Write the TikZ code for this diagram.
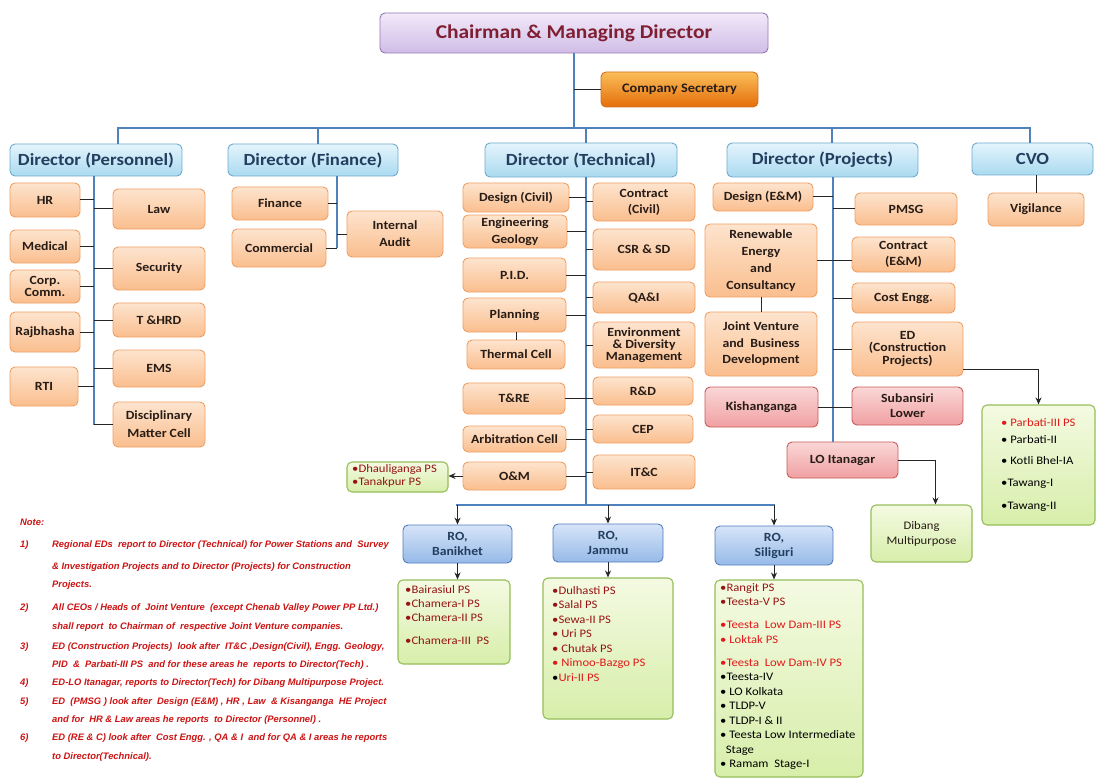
\documentclass[tikz,border=0pt]{standalone}
\usepackage{fontspec}
\setmainfont{Carlito}[FakeStretch=1.1]
\newfontfamily\notefont{Liberation Sans}
\usetikzlibrary{arrows.meta}
\definecolor{orTop}{RGB}{253,228,206}
\definecolor{orBot}{RGB}{250,190,142}
\definecolor{orBorder}{RGB}{240,160,100}
\definecolor{csTop}{RGB}{250,190,90}
\definecolor{csBot}{RGB}{228,110,10}
\definecolor{csBorder}{RGB}{210,110,30}
\definecolor{blTop}{RGB}{228,244,252}
\definecolor{blBot}{RGB}{170,218,240}
\definecolor{blBorder}{RGB}{110,170,205}
\definecolor{tiTop}{RGB}{242,234,250}
\definecolor{tiBot}{RGB}{208,188,230}
\definecolor{tiBorder}{RGB}{150,120,180}
\definecolor{pkTop}{RGB}{250,215,215}
\definecolor{pkBot}{RGB}{240,160,162}
\definecolor{pkBorder}{RGB}{200,90,90}
\definecolor{gnTop}{RGB}{244,250,226}
\definecolor{gnBot}{RGB}{215,238,170}
\definecolor{gnBorder}{RGB}{150,190,90}
\definecolor{roTop}{RGB}{214,228,248}
\definecolor{roBot}{RGB}{150,186,232}
\definecolor{roBorder}{RGB}{85,125,190}
\definecolor{trunkblue}{RGB}{79,129,189}
\definecolor{titletext}{RGB}{128,30,50}
\definecolor{dirtext}{RGB}{35,62,95}
\definecolor{boxtext}{RGB}{40,28,22}
\definecolor{dred}{RGB}{150,20,20}
\definecolor{bred}{RGB}{225,25,25}
\definecolor{notered}{RGB}{205,20,20}
\newcommand{\mkbox}[7]{\node[#1, minimum width={(#5-#3)*1pt}, minimum height={(#6-#4)*1pt}] (#2) at ({(#3+#5)/2},{(#4+#6)/2}) {#7};}
\begin{document}
\begin{tikzpicture}[x=1pt,y=-1pt,
  base/.style={rounded corners=5pt, draw, line width=0.9pt, align=center, inner sep=1pt,
    font=\fontsize{12.5}{15}\selectfont\bfseries, text=boxtext},
  ls/.style={font=\fontsize{12.5}{#1}\selectfont\bfseries},
  obox/.style={base, draw=orBorder, top color=orTop, bottom color=orBot},
  cbox/.style={base, draw=csBorder, top color=csTop, bottom color=csBot,
    font=\fontsize{13}{15}\selectfont\bfseries},
  dbox/.style={base, draw=blBorder, top color=blTop, bottom color=blBot,
    font=\fontsize{17}{18}\selectfont\bfseries, text=dirtext},
  tbox/.style={base, draw=tiBorder, top color=tiTop, bottom color=tiBot,
    font=\fontsize{19.5}{20}\selectfont\bfseries, text=titletext},
  pbox/.style={base, draw=pkBorder, top color=pkTop, bottom color=pkBot},
  gbox/.style={base, draw=gnBorder, top color=gnTop, bottom color=gnBot, line width=1.1pt},
  rbox/.style={base, draw=roBorder, top color=roTop, bottom color=roBot, text=dirtext},
  list/.style={anchor=north west, inner sep=0pt, align=left, font=\fontsize{11.5}{#1}\selectfont},
  trunk/.style={draw=trunkblue, line width=2.6pt},
  conn/.style={draw=black!85, line width=1pt},
  arr/.style={conn, -{Stealth[length=7pt,width=6pt]}},
  note/.style={anchor=west, inner sep=0pt, text=notered,
    font=\notefont\fontsize{9.4}{10}\selectfont\bfseries\itshape}
]
\useasboundingbox (0,0) rectangle (1097,778);
\fill[white] (0,0) rectangle (1097,778);

% ---- top
\mkbox{tbox}{cmd}{380}{13}{768}{53}{Chairman \& Managing Director}
\mkbox{cbox}{cs}{601}{72}{758}{107}{Company Secretary}
\coordinate (bar) at (574,128);
\coordinate (d1) at (118,128);
\coordinate (d2) at (318,128);
\coordinate (d3) at (586,128);
\coordinate (d4) at (832,128);
\coordinate (d5) at (1030,128);

\mkbox{dbox}{dpers}{10}{144}{182}{176}{Director (Personnel)}
\mkbox{dbox}{dfin}{228}{144}{398}{176}{Director (Finance)}
\mkbox{dbox}{dtech}{485}{143}{677}{177}{Director (Technical)}
\mkbox{dbox}{dproj}{727}{143}{918}{177}{Director (Projects)}
\mkbox{dbox}{cvo}{972}{143}{1093}{175}{CVO}

\draw[trunk] (cmd.south) -- (bar);
\draw[trunk] ([xshift=-1.3pt]d1) -- ([xshift=1.3pt]d5);
\draw[trunk] (d1) -- (d1 |- dpers.north);
\draw[trunk] (d2) -- (d2 |- dfin.north);
\draw[trunk] (d3) -- (d3 |- dtech.north);
\draw[trunk] (d4) -- (d4 |- dproj.north);
\draw[trunk] (d5) -- (d5 |- cvo.north);
\draw[conn] (cs.west -| cmd.south) -- (cs.west);

% ---- Personnel
\mkbox{obox}{hr}{10}{183}{80}{217}{HR}
\mkbox{obox}{med}{10}{230}{80}{263}{Medical}
\mkbox{obox,ls=10}{corp}{10}{270}{80}{303}{Corp.\\Comm.}
\mkbox{obox}{raj}{10}{312}{80}{352}{Rajbhasha}
\mkbox{obox}{rti}{10}{367}{78}{406}{RTI}
\mkbox{obox}{law}{113}{189}{205}{229}{Law}
\mkbox{obox}{secu}{113}{247}{205}{290}{Security}
\mkbox{obox}{thrd}{113}{303}{205}{337}{T \&HRD}
\mkbox{obox}{ems}{113}{350}{205}{387}{EMS}
\mkbox{obox,ls=18}{dmc}{113}{402}{205}{447}{Disciplinary\\Matter Cell}
\coordinate (pv1) at (94,176);
\coordinate (pv2) at (94,425);
\draw[trunk] (pv1) -- (pv2);
\foreach \n in {hr,med,corp,raj,rti} \draw[conn] (\n.east) -- (\n.east -| pv1);
\foreach \n in {law,secu,thrd,ems,dmc} \draw[conn] (\n.west) -- (\n.west -| pv1);

% ---- Finance
\mkbox{obox}{fin}{232}{187}{328}{220}{Finance}
\mkbox{obox}{com}{232}{229}{326}{267}{Commercial}
\mkbox{obox,ls=17}{ia}{347}{211}{443}{257}{Internal\\Audit}
\coordinate (fv1) at (337,176);
\coordinate (fv2) at (337,248);
\draw[trunk] (fv1) -- (fv2);
\draw[conn] (fin.east) -- (fin.east -| fv1);
\draw[conn] (com.east) -- (com.east -| fv1);
\draw[conn] (ia.west) -- (ia.west -| fv1);

% ---- Technical
\mkbox{obox}{dciv}{463}{183}{569}{212}{Design (Civil)}
\mkbox{obox,ls=17}{eg}{463}{215}{567}{248}{Engineering\\Geology}
\mkbox{obox}{pid}{463}{258}{566}{292}{P.I.D.}
\mkbox{obox}{plan}{463}{298}{566}{332}{Planning}
\mkbox{obox}{tcell}{467}{340}{565}{369}{Thermal Cell}
\mkbox{obox}{tre}{463}{383}{565}{414}{T\&RE}
\mkbox{obox}{arb}{463}{426}{566}{452}{Arbitration Cell}
\mkbox{obox}{om}{463}{462}{566}{490}{O\&M}
\mkbox{obox,ls=16}{cciv}{593}{183}{695}{221}{Contract\\(Civil)}
\mkbox{obox}{csr}{593}{229}{695}{270}{CSR \& SD}
\mkbox{obox}{qa}{593}{282}{695}{313}{QA\&I}
\mkbox{obox,ls=12}{env}{593}{322}{695}{368}{Environment\\\& Diversity\\Management}
\mkbox{obox}{rd}{593}{377}{693}{405}{R\&D}
\mkbox{obox}{cep}{593}{415}{693}{443}{CEP}
\mkbox{obox}{itc}{593}{455}{695}{489}{IT\&C}
\coordinate (tv1) at (586,177);
\coordinate (tv2) at (586,505);
\draw[trunk] (tv1) -- (tv2);
\foreach \n in {dciv,eg,pid,plan,arb,om} \draw[conn] (\n.east) -- (\n.east -| tv1);
\foreach \n in {cciv,csr,qa,env,cep,itc} \draw[conn] (\n.west) -- (\n.west -| tv1);
\draw[conn] (tre.east) -- (tre.east -| rd.west);
\draw[conn] (tcell.north) -- (tcell.north |- plan.south);

\mkbox{gbox}{dh}{347}{462}{448}{492}{}
\node[list=13] (dht) at (352,464) {\textcolor{dred}{•Dhauliganga PS}\\\textcolor{dred}{•Tanakpur PS}};
\draw[arr] (om.west) -- (om.west -| dh.east);

% ---- Projects
\mkbox{obox}{dem}{713}{183}{813}{211}{Design (E\&M)}
\mkbox{obox}{pmsg}{855}{193}{957}{225}{PMSG}
\mkbox{obox,ls=17}{re}{705}{224}{817}{297}{Renewable\\Energy\\and\\Consultancy}
\mkbox{obox,ls=16}{cem}{852}{237}{955}{272}{Contract\\(E\&M)}
\mkbox{obox}{ce}{852}{283}{955}{313}{Cost Engg.}
\mkbox{obox,ls=16.5}{jv}{705}{312}{817}{376}{Joint Venture\\and\ \ Business\\Development}
\mkbox{obox,ls=12.5}{edc}{852}{322}{963}{376}{ED\\(Construction\\Projects)}
\mkbox{pbox}{kis}{705}{387}{818}{427}{Kishanganga}
\mkbox{pbox,ls=15}{sub}{852}{387}{963}{425}{Subansiri\\Lower}
\mkbox{pbox}{lo}{787}{442}{898}{478}{LO Itanagar}
\coordinate (jv1) at (833,177);
\draw[trunk] (jv1) -- (jv1 |- lo.north);
\draw[conn] (dem.east) -- (dem.east -| jv1);
\draw[conn] (pmsg.west) -- (pmsg.west -| jv1);
\draw[conn] (re.east) -- (re.east -| cem.west);
\draw[conn] (ce.west) -- (ce.west -| jv1);
\draw[conn] (edc.west) -- (edc.west -| jv1);
\draw[conn] (jv.north) -- (jv.north |- re.south);
\draw[conn] (kis.east) -- (kis.east -| sub.west);

\mkbox{gbox}{parb}{982}{405}{1095}{525}{}
\node[list=17] (parbt) at (1001,418) {\textcolor{bred}{• Parbati-III PS}\\
  • Parbati-II\\[4pt] • Kotli Bhel-IA\\[5pt] •Tawang-I\\[6pt] •Tawang-II};
\draw[arr] ([yshift=7pt]edc.south east) -| (parb.north);

\mkbox{gbox,font=\fontsize{11.5}{15}\selectfont}{dib}{871}{505}{972}{562}{Dibang\\Multipurpose}
\draw[arr] (lo.east) -| ([xshift=14pt]dib.north);

% ---- CVO
\mkbox{obox}{vig}{988}{193}{1084}{226}{Vigilance}
\draw[conn] (vig.north) -- (vig.north |- cvo.south);

% ---- Regional offices
\mkbox{rbox}{ro1}{403}{525}{512}{563}{RO,\\Banikhet}
\mkbox{rbox}{ro2}{553}{524}{663}{562}{RO,\\Jammu}
\mkbox{rbox}{ro3}{715}{526}{833}{565}{RO,\\Siliguri}
\draw[trunk] ([xshift=-1.3pt]tv2 -| ro1.north) -- ([xshift=1.3pt]tv2 -| ro3.north);
\foreach \n in {ro1,ro2,ro3} \draw[arr] (tv2 -| \n.north) -- (\n.north);

\mkbox{gbox}{g1}{398}{580}{510}{664}{}
\mkbox{gbox}{g2}{543}{578}{673}{719}{}
\mkbox{gbox}{g3}{715}{580}{863}{777}{}
\foreach \n in {1,2,3} \draw[arr] (ro\n.south) -- (ro\n.south |- g\n.north);

\node[list=14] (g1t) at (405,585) {\textcolor{dred}{•Bairasiul PS}\\\textcolor{dred}{•Chamera-I PS}\\
  \textcolor{dred}{•Chamera-II PS}\\[9pt]\textcolor{dred}{•Chamera-III\ \ PS}};
\node[list=14.5] (g2t) at (552,586) {\textcolor{dred}{•Dulhasti PS}\\\textcolor{dred}{•Salal PS}\\
  \textcolor{dred}{•Sewa-II PS}\\\textcolor{dred}{• Uri PS}\\\textcolor{dred}{• Chutak PS}\\
  \textcolor{bred}{• Nimoo-Bazgo PS}\\•\textcolor{bred}{ Uri-II PS}};
\node[list=14.5] (g3t) at (720,583) {\textcolor{dred}{•Rangit PS}\\\textcolor{dred}{•Teesta-V PS}\\[8.5pt]
  \textcolor{bred}{•Teesta\ \ Low Dam-III PS}\\\textcolor{bred}{• Loktak PS}\\[8.5pt]
  \textcolor{bred}{•Teesta\ \ Low Dam-IV PS}\\•Teesta-IV\\• LO Kolkata\\• TLDP-V\\• TLDP-I \& II\\
  • Teesta Low Intermediate\\\ \ Stage\\• Ramam\ \ Stage-I};

% ---- Notes
\node[note] (n0) at (20,522) {Note:};
\node[note] (k1) at (20,545) {1)};
\node[note] (t1a) at (52,545) {Regional EDs\ \ report to Director (Technical) for Power Stations and\ \ Survey};
\node[note] (t1b) at (52,567) {\& Investigation Projects and to Director (Projects) for Construction};
\node[note] (t1c) at (52,585) {Projects.};
\node[note] (k2) at (20,608) {2)};
\node[note] (t2a) at (52,608) {All CEOs / Heads of\ \ Joint Venture\ \ (except Chenab Valley Power PP Ltd.)};
\node[note] (t2b) at (52,627) {shall report\ \ to Chairman of\ \ respective Joint Venture companies.};
\node[note] (k3) at (20,647) {3)};
\node[note] (t3a) at (52,647) {ED (Construction Projects)\ \ look after\ \ IT\&C ,Design(Civil), Engg. Geology,};
\node[note] (t3b) at (52,665) {PID\ \ \&\ \ Parbati-III PS\ \ and for these areas he\ \ reports to Director(Tech) .};
\node[note] (k4) at (20,683) {4)};
\node[note] (t4a) at (52,683) {ED-LO Itanagar, reports to Director(Tech) for Dibang Multipurpose Project.};
\node[note] (k5) at (20,702) {5)};
\node[note] (t5a) at (52,702) {ED\ \ (PMSG ) look after\ \ Design (E\&M) , HR , Law\ \ \& Kisanganga\ \ HE Project};
\node[note] (t5b) at (52,720) {and for\ \ HR \& Law areas he reports\ \ to Director (Personnel) .};
\node[note] (k6) at (20,738) {6)};
\node[note] (t6a) at (52,738) {ED (RE \& C) look after\ \ Cost Engg. , QA \& I\ \ and for QA \& I areas he reports};
\node[note] (t6b) at (52,757) {to Director(Technical).};
\end{tikzpicture}
\end{document}
